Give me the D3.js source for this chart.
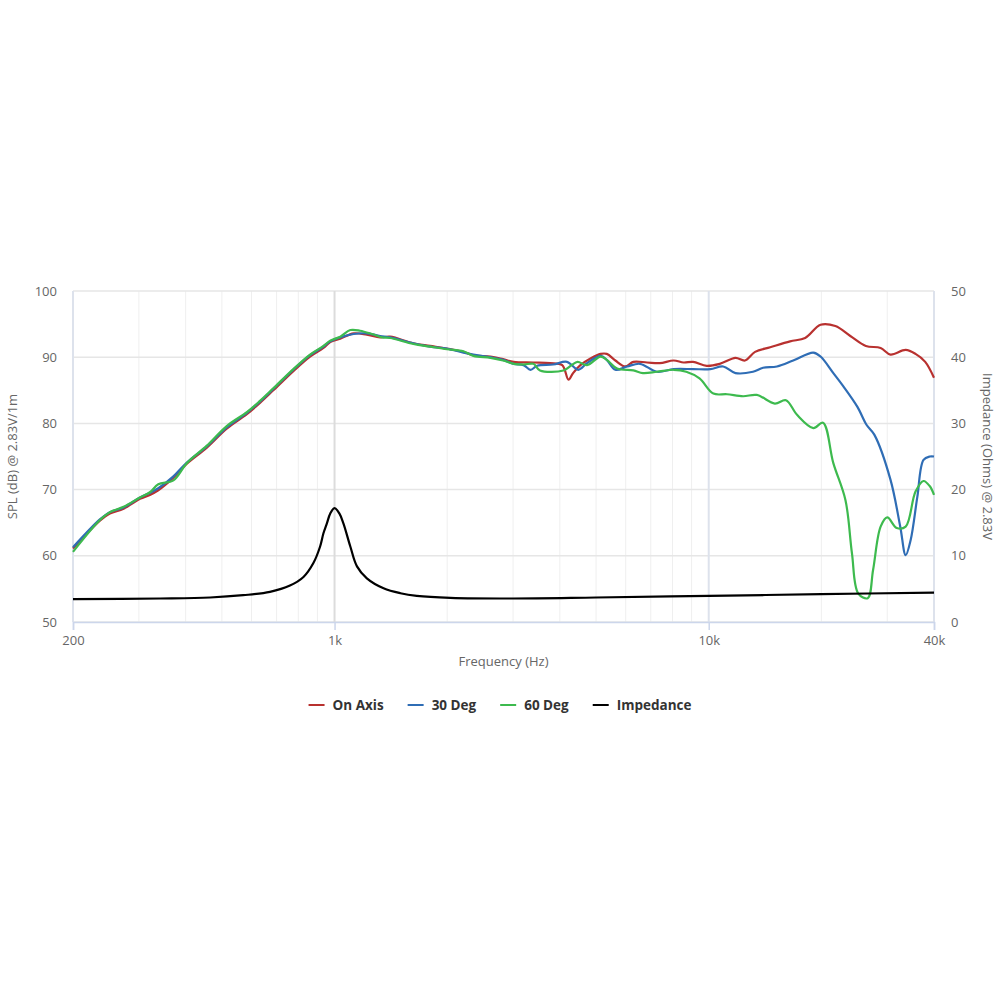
<!DOCTYPE html>
<html>
<head>
<meta charset="utf-8">
<script src="https://cdn.jsdelivr.net/npm/d3@7"></script>
<style>
  body { margin: 0; background: #fff; }
  svg { display: block; font-family: "Open Sans", sans-serif; }
</style>
</head>
<body>
<svg id="chart" width="1000" height="1000"></svg>
<script>
// frequency response data, [Hz, dB]
var onAxis = [[200,61.1],[236,65.3],[251,66.4],[273,67.1],[302,68.6],[321,69.2],[338,69.9],[371,71.8],[403,73.9],[455,76.3],[515,79.2],[583,81.4],[632,83.1],[686,85.0],[776,87.9],[860,90.1],[934,91.4],[974,92.3],[1036,92.8],[1125,93.6],[1220,93.4],[1324,93.0],[1408,93.1],[1624,92.1],[1800,91.7],[1996,91.3],[2210,90.8],[2350,90.3],[2610,90.1],[2820,89.7],[3010,89.3],[3400,89.2],[3770,89.1],[4060,88.8],[4220,86.6],[4340,87.6],[4540,88.8],[4830,89.8],[5140,90.5],[5340,90.5],[5630,89.5],[5980,88.6],[6290,89.3],[6840,89.2],[7400,89.1],[8060,89.5],[8570,89.2],[9080,89.3],[9880,88.7],[10700,89.0],[11790,89.9],[12500,89.5],[13300,90.8],[14600,91.5],[16500,92.4],[18100,92.9],[19900,94.9],[21800,94.7],[23900,93.2],[26300,91.7],[28800,91.4],[30600,90.4],[33600,91.1],[35700,90.5],[37900,89.3],[40000,86.9]];

var deg30 = [[200,61.3],[236,65.5],[251,66.6],[273,67.3],[302,68.8],[321,69.5],[338,70.2],[371,72.0],[403,74.1],[455,76.5],[515,79.4],[583,81.6],[632,83.3],[686,85.2],[776,88.1],[860,90.3],[934,91.6],[974,92.4],[1036,93.0],[1125,93.5],[1220,93.6],[1324,93.2],[1408,93.0],[1624,92.1],[1800,91.6],[1996,91.3],[2210,90.7],[2350,90.4],[2610,90.0],[2820,89.6],[3010,89.0],[3200,88.8],[3340,88.1],[3480,88.7],[3840,88.9],[4180,89.3],[4480,88.1],[4730,89.1],[5140,90.2],[5340,89.6],[5630,88.1],[6060,88.6],[6550,89.0],[7270,87.8],[8060,88.2],[9080,88.2],[10100,88.2],[10930,88.6],[11790,87.6],[13130,87.8],[13970,88.4],[15220,88.6],[16820,89.5],[19030,90.7],[19900,90.1],[21530,87.6],[22900,85.6],[24970,82.5],[26400,79.8],[27700,78.3],[30600,71.5],[32500,64.4],[33600,60.1],[34650,62.4],[36100,68.9],[37500,74.5],[39000,75.0],[40000,75.0]];

var deg60 = [[200,60.6],[236,65.4],[251,66.6],[273,67.4],[302,68.8],[321,69.6],[338,70.8],[371,71.4],[403,74.0],[455,76.6],[515,79.6],[583,81.7],[632,83.4],[686,85.3],[776,88.2],[860,90.4],[934,91.7],[974,92.5],[1036,93.1],[1102,94.1],[1170,94.0],[1260,93.5],[1340,93.0],[1408,92.9],[1624,92.0],[1800,91.6],[1996,91.2],[2210,90.9],[2350,90.2],[2610,89.9],[2820,89.5],[3010,89.0],[3200,88.9],[3400,89.0],[3540,88.0],[4090,88.0],[4300,88.8],[4460,89.3],[4730,88.8],[5140,90.1],[5340,89.6],[5690,88.3],[6290,88.0],[6670,87.6],[7270,87.8],[8060,88.1],[8710,87.8],[9450,86.8],[10290,84.5],[11190,84.4],[12360,84.1],[13440,84.3],[15020,83.0],[16080,83.5],[17220,81.3],[19030,79.3],[20200,80.1],[21530,74.0],[23200,68.4],[24140,60.4],[25100,54.3],[26600,53.6],[27500,57.9],[28800,64.4],[30000,65.8],[31800,64.2],[33600,64.4],[35700,69.7],[37500,71.3],[39000,70.5],[40000,69.2]];

// impedance, [Hz, Ohms]
var impedance = [[200,3.45],[342,3.55],[465,3.7],[570,4.05],[672,4.55],[760,5.5],[826,6.8],[878,8.9],[915,11.4],[934,13.4],[954,14.9],[974,16.4],[1000,17.2],[1030,16.4],[1056,14.9],[1102,11.4],[1148,8.4],[1220,6.6],[1352,5.1],[1500,4.35],[1659,3.95],[2040,3.65],[3000,3.55],[5000,3.7],[10000,3.95],[20000,4.2],[40000,4.45]];

var xTicks = [200, 1000, 10000, 40000];
var xTickLabels = ["200", "1k", "10k", "40k"];
var minorFreqs = [300,400,500,600,700,800,900,2000,3000,4000,5000,6000,7000,8000,9000,20000,30000];
var splTicks = [50, 60, 70, 80, 90, 100];
var ohmTicks = [0, 10, 20, 30, 40, 50];

var seriesNames = ["On Axis", "30 Deg", "60 Deg", "Impedance"];
var seriesColors = ["#b8312f", "#2f6db5", "#3dba4e", "#000000"];

var svg = d3.select("#chart");

// plot area
var plotL = 73, plotR = 934, plotT = 291, plotB = 622;

var x = d3.scaleLog().domain([200, 40000]).range([plotL, plotR]);
var yDb = d3.scaleLinear().domain([50, 100]).range([plotB, plotT]);
var yOhm = d3.scaleLinear().domain([0, 50]).range([plotB, plotT]);

var grid = svg.append("g").attr("class", "grid");

// minor vertical lines
grid.selectAll("line.minor")
    .data(minorFreqs)
    .enter().append("line")
    .attr("class", "minor")
    .attr("x1", function(d) { return x(d); })
    .attr("x2", function(d) { return x(d); })
    .attr("y1", plotT).attr("y2", plotB)
    .style("stroke", "#efefef")
    .style("stroke-width", 1);

// horizontal lines
grid.selectAll("line.h")
    .data(splTicks)
    .enter().append("line")
    .attr("class", "h")
    .attr("x1", plotL).attr("x2", plotR)
    .attr("y1", function(d) { return yDb(d); })
    .attr("y2", function(d) { return yDb(d); })
    .style("stroke", "#e6e6e6")
    .style("stroke-width", 1.5);

// major vertical lines
grid.selectAll("line.major")
    .data(xTicks)
    .enter().append("line")
    .attr("class", "major")
    .attr("x1", function(d) { return x(d); })
    .attr("x2", function(d) { return x(d); })
    .attr("y1", plotT).attr("y2", plotB)
    .style("stroke", function(d) { return d == 1000 ? "#dcdcdc" : "#dde2ec"; })
    .style("stroke-width", 2);

// bottom axis
var xAxis = d3.axisBottom(x)
    .tickValues(xTicks)
    .tickFormat(function(d, i) { return xTickLabels[i]; })
    .tickSize(8)
    .tickPadding(6);

var gx = svg.append("g")
    .attr("transform", "translate(0," + plotB + ")")
    .call(xAxis);
gx.select(".domain").style("stroke", "#ccd6eb").style("stroke-width", 1.5);
gx.selectAll(".tick line").style("stroke", "#ccd6eb").style("stroke-width", 1.5);
gx.selectAll(".tick text")
    .style("font-family", "Open Sans").style("font-size", "13px").style("fill", "#666");

// left axis labels
var yAxisL = d3.axisLeft(yDb).tickValues(splTicks).tickSize(0).tickPadding(16);
var gyl = svg.append("g").attr("transform", "translate(" + plotL + ",0)").call(yAxisL);
gyl.select(".domain").remove();
gyl.selectAll(".tick text")
    .style("font-family", "Open Sans").style("font-size", "13px").style("fill", "#666");

// right axis labels
var yAxisR = d3.axisRight(yOhm).tickValues(ohmTicks).tickSize(0).tickPadding(17);
var gyr = svg.append("g").attr("transform", "translate(" + plotR + ",0)").call(yAxisR);
gyr.select(".domain").remove();
gyr.selectAll(".tick text")
    .style("font-family", "Open Sans").style("font-size", "13px").style("fill", "#666");

// axis titles
svg.append("text")
    .attr("x", (plotL + plotR) / 2).attr("y", 666)
    .attr("text-anchor", "middle")
    .style("font-size", "13px").style("fill", "#666")
    .text("Frequency (Hz)");

svg.append("text")
    .attr("transform", "translate(17," + ((plotT + plotB) / 2) + ") rotate(-90)")
    .attr("text-anchor", "middle")
    .style("font-size", "13px").style("fill", "#666")
    .text("SPL (dB) @ 2.83V/1m");

svg.append("text")
    .attr("transform", "translate(983," + ((plotT + plotB) / 2) + ") rotate(90)")
    .attr("text-anchor", "middle")
    .style("font-size", "13px").style("fill", "#666")
    .text("Impedance (Ohms) @ 2.83V");

// series lines
var dbLine = d3.line()
    .x(function(d) { return x(d[0]); })
    .y(function(d) { return yDb(d[1]); })
    .curve(d3.curveCatmullRom.alpha(0.5));

var ohmLine = d3.line()
    .x(function(d) { return x(d[0]); })
    .y(function(d) { return yOhm(d[1]); })
    .curve(d3.curveCatmullRom.alpha(0.5));

var lines = svg.append("g").attr("class", "series");
[onAxis, deg30, deg60].forEach(function(s, i) {
    lines.append("path")
        .datum(s)
        .attr("d", dbLine)
        .style("fill", "none")
        .style("stroke", seriesColors[i])
        .style("stroke-width", 2.2)
        .style("stroke-linejoin", "round");
});
lines.append("path")
    .datum(impedance)
    .attr("d", ohmLine)
    .style("fill", "none")
    .style("stroke", seriesColors[3])
    .style("stroke-width", 2.2);

// legend, centred under the plot
var legend = svg.append("g").attr("class", "legend");
var items = legend.selectAll("g.item")
    .data(seriesNames)
    .enter().append("g")
    .attr("class", "item");

items.append("line")
    .attr("x1", 0).attr("x2", 16)
    .attr("y1", 0).attr("y2", 0)
    .style("stroke", function(d, i) { return seriesColors[i]; })
    .style("stroke-width", 2);

items.append("text")
    .attr("x", 24).attr("y", 5)
    .style("font-size", "13.5px").style("font-weight", "bold").style("fill", "#333")
    .text(function(d) { return d; });

var lx = 0;
var offsets = [];
items.each(function(d, i) {
    offsets.push(lx);
    var w = d3.select(this).select("text").node().getComputedTextLength();
    lx += 24 + w + 24;
});
var legendWidth = lx - 24;
var lx0 = 500 - legendWidth / 2;
items.attr("transform", function(d, i) { return "translate(" + (lx0 + offsets[i]) + ",705)"; });
</script>
</body>
</html>
